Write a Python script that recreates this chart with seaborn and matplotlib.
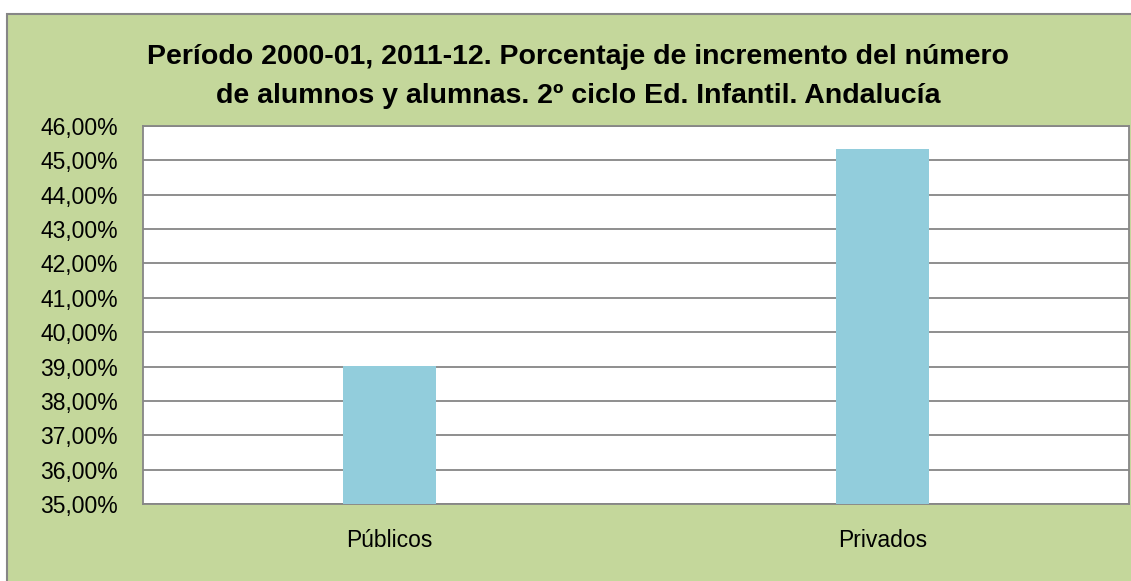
import matplotlib
matplotlib.use('Agg')
import matplotlib.pyplot as plt
import matplotlib.patches as mpatches
from matplotlib.ticker import FuncFormatter, MultipleLocator
import pandas as pd
import seaborn as sns

# datos
categorias = ['Públicos', 'Privados']
incremento = [39.03, 45.34]
titulo = ('Período 2000-01, 2011-12. Porcentaje de incremento del número\n'
          'de alumnos y alumnas. 2º ciclo Ed. Infantil. Andalucía')

verde = '#C4D79B'
azul = '#92CDDC'
gris = '#868686'

sns.set_theme(style='white')
plt.rcParams['font.family'] = ['Liberation Sans', 'DejaVu Sans']
plt.rcParams['text.color'] = 'black'

df = pd.DataFrame({'tipo': categorias, 'pct': incremento})

fig = plt.figure(figsize=(11.31, 5.81), dpi=100, facecolor='white')
# marco exterior del grafico
fondo = mpatches.Rectangle((7 / 1131, -0.01), 1.0, 1 - 14 / 581 + 0.01,
                           transform=fig.transFigure, facecolor=verde,
                           edgecolor=gris, linewidth=1.5, zorder=-5)
fig.patches.append(fondo)

ax = fig.add_axes([143 / 1131, 1 - 504 / 581, 986 / 1131, 378 / 581])
ax.set_zorder(2)
ax.set_facecolor('white')
sns.barplot(data=df, x='tipo', y='pct', color=azul, width=0.19,
            saturation=1, linewidth=0, ax=ax, zorder=3)

ax.set_ylim(35, 46)
ax.yaxis.set_major_locator(MultipleLocator(1))
ax.yaxis.set_major_formatter(FuncFormatter(lambda v, p: f'{v:.2f}'.replace('.', ',') + '%'))
ax.grid(axis='y', color=gris, linewidth=1.3, zorder=0)
ax.set_axisbelow(True)
for s in ax.spines.values():
    s.set_color(gris)
    s.set_linewidth(1.3)
ax.set_xlabel('')
ax.set_ylabel('')
ax.tick_params(axis='both', length=0, labelsize=16.5, colors='black')
ax.tick_params(axis='y', pad=18)
ax.tick_params(axis='x', pad=18)

fig.text(578 / 1131, 1 - 76.5 / 581, titulo, ha='center', va='center',
         fontsize=20.5, fontweight='bold', linespacing=1.62, color='black')

fig.savefig('out.png', dpi=100)
